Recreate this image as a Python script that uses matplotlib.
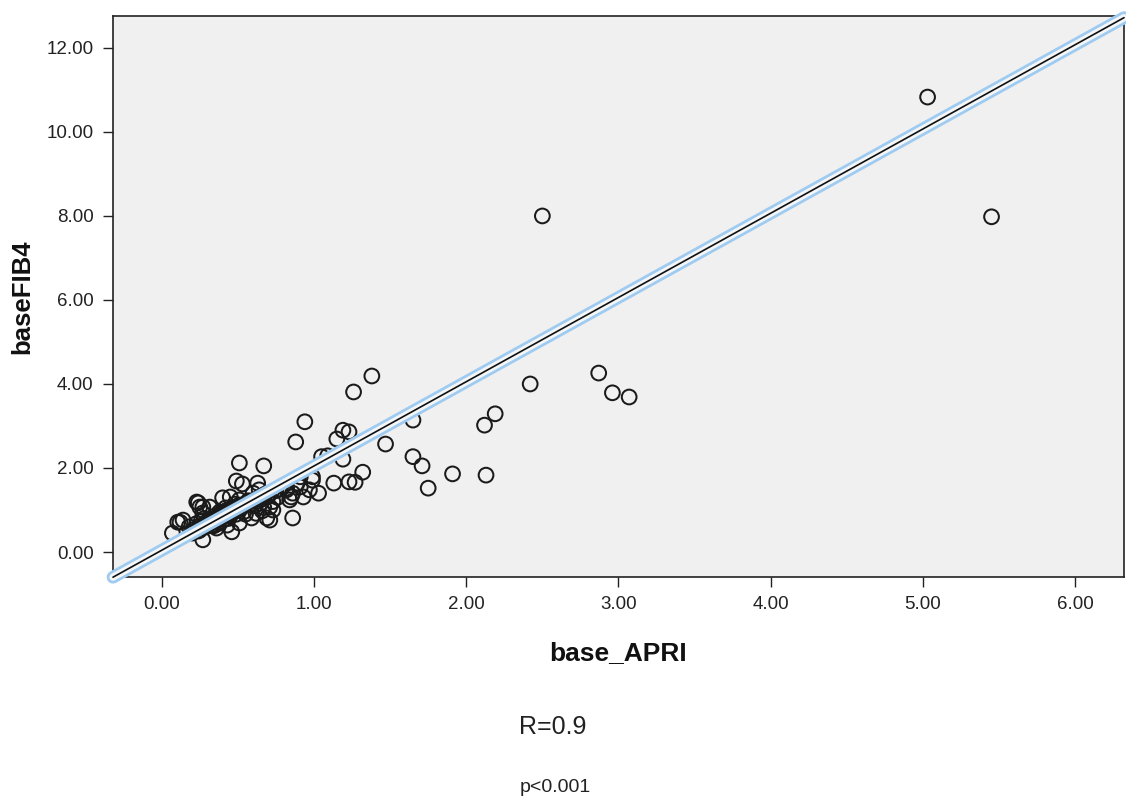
import matplotlib
matplotlib.use("Agg")
import matplotlib.pyplot as plt
import numpy as np

plt.rcParams['font.family'] = ['Liberation Sans', 'DejaVu Sans']

# ---- data ----
apri_sparse = [5.03, 5.45, 2.50, 1.38, 1.26, 2.42, 2.87, 2.96, 3.07, 0.94, 1.65, 2.19, 2.12,
               0.88, 1.19, 1.23, 1.15, 1.47, 1.09, 1.19, 1.05, 1.32, 1.23, 1.27, 1.13, 1.65,
               1.71, 1.75, 1.91, 2.13, 0.99, 1.03, 0.91, 0.82, 0.86, 0.51, 0.67, 0.49, 0.53,
               0.63, 0.86, 0.93, 0.84, 0.24, 0.27, 0.12, 0.07, 0.27, 0.46, 0.71]
fib4_sparse = [10.83, 7.98, 8.00, 4.19, 3.81, 4.00, 4.26, 3.79, 3.69, 3.10, 3.14, 3.29, 3.02,
               2.62, 2.90, 2.86, 2.69, 2.57, 2.29, 2.21, 2.27, 1.90, 1.67, 1.66, 1.64, 2.27,
               2.05, 1.52, 1.86, 1.83, 1.79, 1.40, 1.55, 1.52, 1.40, 2.12, 2.05, 1.69, 1.62,
               1.64, 0.81, 1.31, 1.24, 1.17, 1.07, 0.71, 0.45, 0.29, 0.48, 0.76]

apri_edge = [0.105, 0.14, 0.23, 0.25, 0.27, 0.315, 0.40, 0.45, 0.51, 0.60, 0.64, 0.69, 0.71,
             0.73, 0.69, 0.59, 0.51, 0.43, 0.36, 0.25, 0.20, 0.89, 0.82, 0.85, 0.97, 0.91, 0.99]
fib4_edge = [0.71, 0.76, 1.19, 1.07, 0.93, 1.07, 1.29, 1.31, 1.24, 1.40, 1.48, 1.31, 1.07,
             1.00, 0.81, 0.81, 0.69, 0.64, 0.57, 0.52, 0.48, 1.64, 1.48, 1.31, 1.48, 1.79, 1.71]

apri_core = [0.20, 0.22, 0.24, 0.25, 0.27, 0.28, 0.30, 0.30, 0.32, 0.33, 0.34, 0.35, 0.36,
             0.37, 0.38, 0.39, 0.40, 0.41, 0.42, 0.43, 0.44, 0.45, 0.46, 0.47, 0.48, 0.49,
             0.50, 0.52, 0.53, 0.55, 0.56, 0.58, 0.60, 0.62, 0.64, 0.66, 0.68, 0.70, 0.72,
             0.75, 0.78, 0.80, 0.34, 0.38, 0.42, 0.36, 0.44, 0.28, 0.26,
             0.18, 0.21, 0.23, 0.29, 0.31, 0.33, 0.35, 0.37, 0.39, 0.41, 0.43, 0.45, 0.47,
             0.49, 0.51, 0.54, 0.57, 0.61, 0.65, 0.67, 0.73, 0.76, 0.62, 0.66, 0.55, 0.48]
fib4_core = [0.45, 0.55, 0.50, 0.62, 0.58, 0.66, 0.64, 0.72, 0.70, 0.78, 0.72, 0.80, 0.76,
             0.84, 0.80, 0.88, 0.84, 0.90, 0.86, 0.94, 0.92, 0.98, 0.94, 1.00, 1.02, 0.98,
             1.06, 1.04, 1.10, 1.12, 1.18, 1.14, 1.22, 1.20, 1.30, 1.26, 1.38, 1.34, 1.42,
             1.46, 1.50, 1.58, 0.62, 0.95, 1.05, 0.66, 0.80, 0.80, 0.74,
             0.60, 0.48, 0.68, 0.60, 0.76, 0.64, 0.86, 0.70, 0.92, 0.78, 1.00, 0.86, 1.06,
             0.90, 1.12, 0.96, 1.22, 1.10, 1.16, 1.06, 1.20, 1.30, 0.92, 0.98, 0.90, 1.14]

fit_slope = 2.006
fit_intercept = 0.042

x_ticks = [0, 1, 2, 3, 4, 5, 6]
y_ticks = [0, 2, 4, 6, 8, 10, 12]
x_limits = (-0.32, 6.32)
y_limits = (-0.595, 12.76)

apri = np.array(apri_sparse + apri_edge + apri_core)
fib4 = np.array(fib4_sparse + fib4_edge + fib4_core)

# ---- figure ----
fig = plt.figure(figsize=(11.26, 8.02), dpi=100)
ax = fig.add_axes([113/1126, 1-577/802, (1124-113)/1126, (577-16)/802])
ax.set_facecolor('#f0f0f0')

ax.scatter(apri, fib4, s=112, facecolors='none', edgecolors='#1a1a1a', linewidths=1.45, zorder=3)

xs = np.array(x_limits)
ys = fit_intercept + fit_slope * xs
ax.plot(xs, ys, color='#9fcbf0', lw=9.2, solid_capstyle='round', clip_on=False, zorder=4)
ax.plot(xs, ys, color='#f4f6f8', lw=5.2, solid_capstyle='round', clip_on=False, zorder=5)
ax.plot(xs, ys, color='#111111', lw=1.2, solid_capstyle='round', clip_on=False, zorder=6)

ax.set_xlim(*x_limits)
ax.set_ylim(*y_limits)
ax.set_xticks(x_ticks)
ax.set_yticks(y_ticks)
ax.set_xticklabels([f"{v:.2f}" for v in x_ticks])
ax.set_yticklabels([f"{v:.2f}" for v in y_ticks])
ax.tick_params(direction='out', length=7, width=1.0, colors='#222222', labelsize=13.5, pad=7)
for s in ax.spines.values():
    s.set_linewidth(1.2)
    s.set_color('#222222')

ax.set_xlabel('base_APRI', fontsize=19, fontweight='bold', labelpad=20, color='#111111')
ax.set_ylabel('baseFIB4', fontsize=18.5, fontweight='bold', labelpad=9, color='#111111')

fig.text(553/1126, 1-727/802, 'R=0.9', fontsize=18, ha='center', va='center', color='#222222')
fig.text(555/1126, 1-787/802, 'p<0.001', fontsize=14, ha='center', va='center', color='#222222')

fig.savefig('out.png', dpi=100)
